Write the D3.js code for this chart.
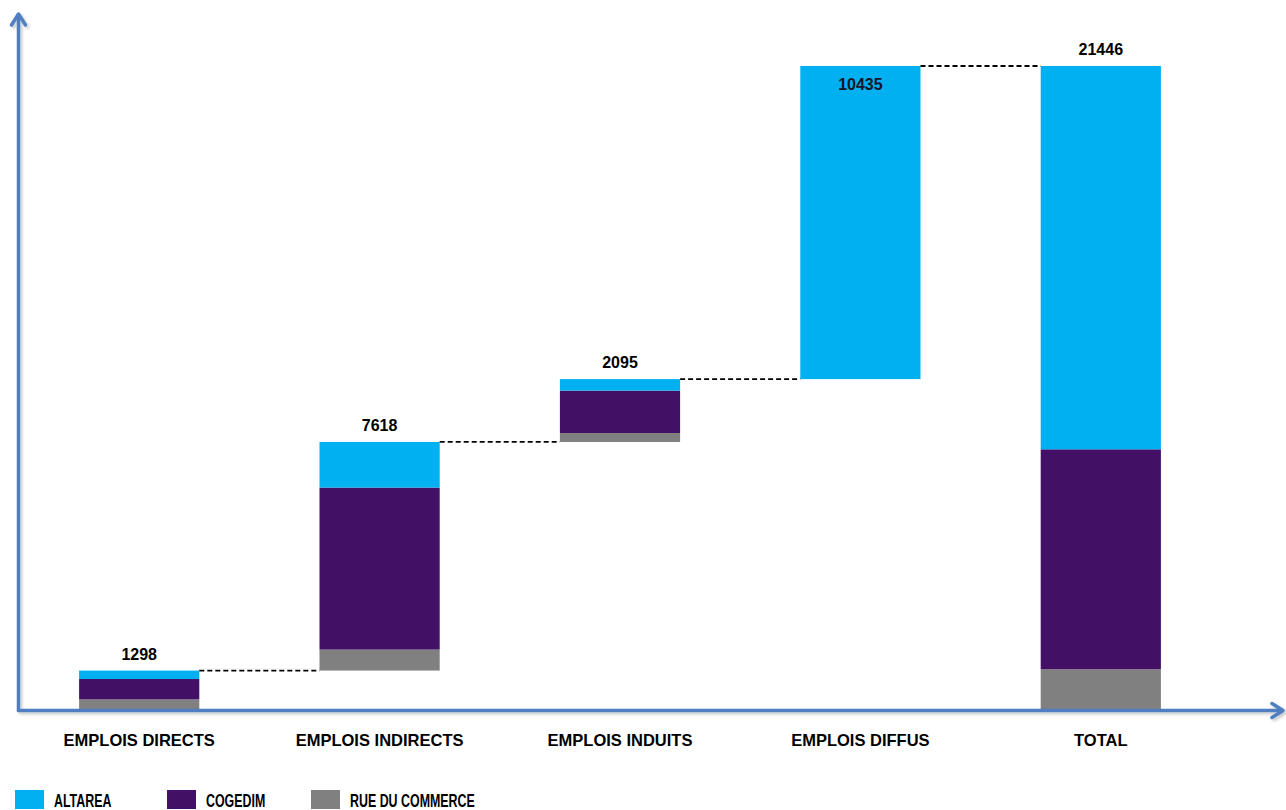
<!DOCTYPE html>
<html>
<head>
<meta charset="utf-8">
<script src="https://cdn.jsdelivr.net/npm/d3@7"></script>
<style>
  body { margin: 0; background: #fff; }
  text { font-family: Arial, "Liberation Sans", sans-serif; font-weight: bold; fill: #000; }
</style>
</head>
<body>
<div id="chart"></div>
<script>
const categories = ['EMPLOIS DIRECTS', 'EMPLOIS INDIRECTS', 'EMPLOIS INDUITS', 'EMPLOIS DIFFUS', 'TOTAL'];
const totals = [1298, 7618, 2095, 10435, 21446];
const altarea = [282, 1520, 384, 10435, 12774];
const cogedim = [680, 5399, 1413, 0, 7332];
const rueDuCommerce = [336, 699, 298, 0, 1340];
const seriesNames = ['RUE DU COMMERCE', 'COGEDIM', 'ALTAREA'];
const legendOrder = ['ALTAREA', 'COGEDIM', 'RUE DU COMMERCE'];
const colors = { 'ALTAREA': '#00b0f0', 'COGEDIM': '#421166', 'RUE DU COMMERCE': '#808080' };

const width = 1286, height = 810;
const svg = d3.select('#chart').append('svg')
  .attr('width', width)
  .attr('height', height);

const defs = svg.append('defs');
const shadow = defs.append('filter').attr('id', 'shadow')
  .attr('x', '-5%').attr('y', '-5%').attr('width', '110%').attr('height', '110%');
shadow.append('feDropShadow')
  .attr('dx', 2).attr('dy', 2).attr('stdDeviation', 1.5)
  .attr('flood-color', '#000').attr('flood-opacity', 0.22);

const x = d3.scaleBand()
  .domain(categories)
  .range([19, 1221])
  .paddingInner(0.5)
  .paddingOuter(0.25);

const y = d3.scaleLinear()
  .domain([0, d3.max(totals)])
  .range([709.5, 66]);

// waterfall bases: running sum for the steps, zero for the total
const last = categories.length - 1;
const bases = totals.map((v, i) => i === last ? 0 : d3.sum(totals.slice(0, i)));

const rows = categories.map((c, i) => ({
  category: c,
  base: bases[i],
  'RUE DU COMMERCE': rueDuCommerce[i],
  'COGEDIM': cogedim[i],
  'ALTAREA': altarea[i],
}));

const stack = d3.stack().keys(seriesNames);
const layers = stack(rows);

const g = svg.append('g');

g.selectAll('.layer')
    .data(layers)
  .enter().append('g')
    .attr('class', 'layer')
    .attr('fill', (d) => colors[d.key])
  .selectAll('rect')
    .data((d) => d)
  .enter().append('rect')
    .attr('x', (d) => x(d.data.category))
    .attr('width', x.bandwidth())
    .attr('y', (d) => y(d.data.base + d[1]))
    .attr('height', (d) => y(d.data.base + d[0]) - y(d.data.base + d[1]));

// dashed connectors from each top to the next bar
const links = categories.slice(0, last).map((c, i) => ({
  from: c,
  to: categories[i + 1],
  level: bases[i] + totals[i],
}));
g.selectAll('.link')
    .data(links)
  .enter().append('line')
    .attr('class', 'link')
    .attr('x1', (d) => x(d.from) + x.bandwidth())
    .attr('x2', (d) => x(d.to))
    .attr('y1', (d) => y(d.level))
    .attr('y2', (d) => y(d.level))
    .attr('stroke', '#000')
    .attr('stroke-width', 1.8)
    .attr('stroke-dasharray', '5,3');

// value labels
const insideLabels = ['EMPLOIS DIFFUS'];
g.selectAll('.value')
    .data(categories)
  .enter().append('text')
    .attr('class', 'value')
    .attr('x', (d) => x(d) + x.bandwidth() / 2)
    .attr('y', (d, i) => {
      const top = y(bases[i] + totals[i]);
      return insideLabels.includes(d) ? top + 24 : top - 11;
    })
    .attr('text-anchor', 'middle')
    .style('font-size', '16px')
    .style('fill', (d) => insideLabels.includes(d) ? '#14142a' : '#000')
    .text((d, i) => totals[i]);

// axes with arrows
const axisColor = '#4f7fc0';
const axes = svg.append('g').attr('filter', 'url(#shadow)')
  .attr('stroke', axisColor)
  .attr('stroke-width', 3.5)
  .attr('fill', 'none')
  .attr('stroke-linecap', 'round')
  .attr('stroke-linejoin', 'round');
const x0 = 18.5, y0 = 710.5;
axes.append('path').attr('d', `M${x0},${y0} V15`);
axes.append('path').attr('d', `M${x0 - 7},25 L${x0},14 L${x0 + 7},25`);
axes.append('path').attr('d', `M${x0},${y0} H1282`);
axes.append('path').attr('d', `M1272,${y0 - 7} L1283,${y0} L1272,${y0 + 7}`);

// category labels
svg.selectAll('.cat')
    .data(categories)
  .enter().append('text')
    .attr('class', 'cat')
    .attr('x', (d) => x(d) + x.bandwidth() / 2)
    .attr('y', 746)
    .attr('text-anchor', 'middle')
    .style('font-size', '16.5px')
    .text((d) => d);

// legend (narrow lettering squeezed horizontally)
const legendX = [15, 167, 311];
const legend = svg.selectAll('.legend')
    .data(legendOrder)
  .enter().append('g')
    .attr('class', 'legend')
    .attr('transform', (d, i) => `translate(${legendX[i]},790)`);
legend.append('rect')
  .attr('width', 29)
  .attr('height', 19)
  .attr('fill', (d) => colors[d]);
legend.append('text')
  .attr('transform', 'translate(39,17) scale(0.69,1)')
  .style('font-size', '18px')
  .text((d) => d);
</script>
</body>
</html>
